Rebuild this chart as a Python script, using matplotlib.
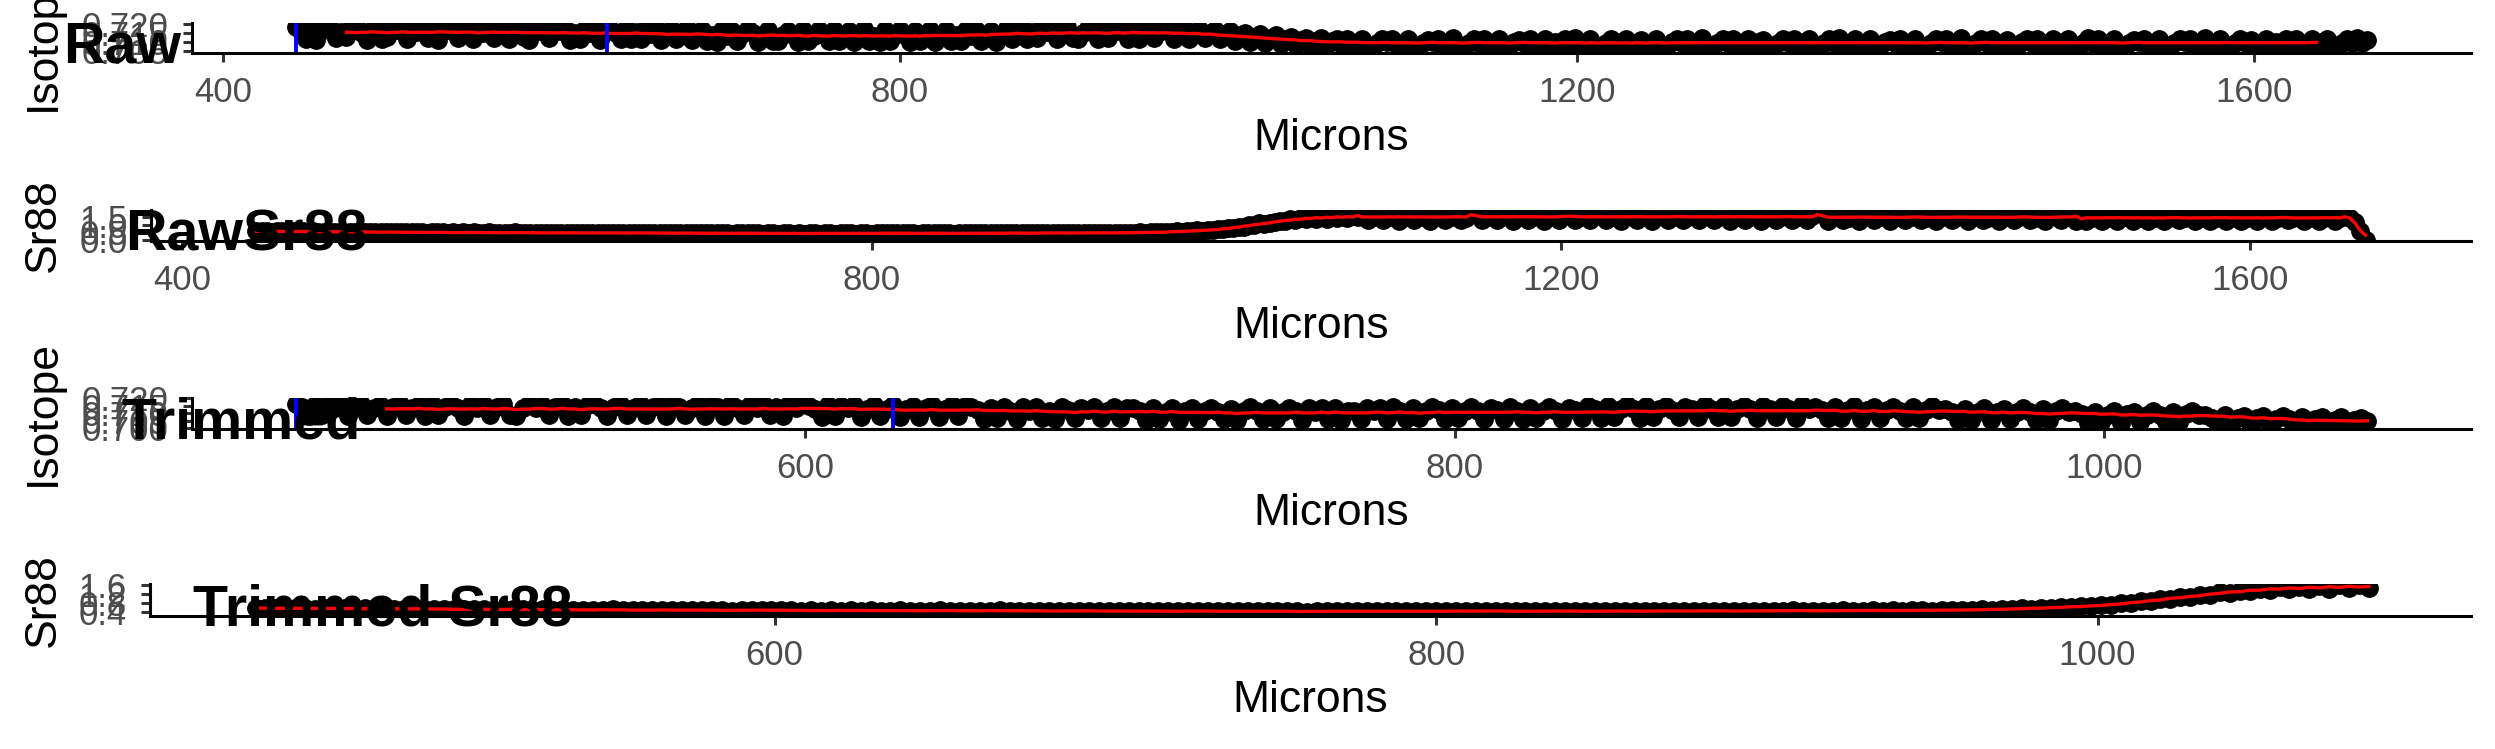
import numpy as np
import pandas as pd
import matplotlib
matplotlib.use("Agg")
import matplotlib.pyplot as plt

plt.rcParams['font.family'] = ['Liberation Sans', 'DejaVu Sans']

W, H = 2495, 749

# laser track: raw readings every 3 microns from 443, trimmed isotope every 2 microns
start_um = 443
raw_step = 3
trim_step = 2
trim_end = 1082

# 87Sr/86Sr as 0.7 + n * 1e-4
raw_isotope_e4 = [
    181, 160, 118, 176, 112, 163, 184, 170, 121, 158, 125, 179, 185, 152, 113, 167, 177, 119, 128, 182,
    164, 172, 116, 180, 155, 186, 124, 159, 111, 174, 168, 183, 120, 162, 178, 117, 171, 150, 185, 123,
    157, 175, 114, 166, 181, 126, 110, 184, 160, 169, 121, 176, 163,
    176, 113, 152, 118, 174, 148, 179, 111, 155, 172, 150, 118, 177, 114, 153, 116, 175, 147, 180, 112,
    151, 173, 115, 156, 178, 110, 149,
    165, 104, 140, 101, 168, 135, 163, 107, 142, 170, 152, 102, 137, 166, 105, 108, 139, 162, 143, 100,
    169, 106, 134, 164, 141, 103, 167, 108, 136, 163, 101, 138, 170, 104, 133, 102, 165, 107, 140, 168,
    137, 102, 162, 105, 142, 166, 100, 135, 169, 106, 139, 103, 164, 136, 167, 108, 141, 163, 101, 138,
    180, 119, 157, 176, 116, 153, 121, 184, 158, 178, 117, 155, 182, 120, 118, 152, 175, 159, 115, 183,
    122, 154, 177, 156, 118, 181, 116, 151, 179, 121, 157, 185,
    176, 116, 152, 180, 114, 150,
    170, 120, 150, 166, 116, 144, 160, 108, 138, 152, 100, 130, 144, 94, 124, 137, 88, 118, 130, 84,
    112, 124, 80, 108, 120, 78, 104, 116, 82,
    116, 75, 97, 114, 78, 73, 94, 119, 99, 115, 77, 93, 118, 74, 80, 96, 113, 98, 117, 72,
    95, 120, 76, 79, 92, 114, 97, 116, 73, 94, 119, 77, 75, 99, 113, 96, 118, 78, 93, 115,
    74, 98, 76, 117, 95, 120, 72, 97, 114, 79, 76, 94, 116, 80, 99, 119, 73, 96, 113, 77,
    92, 118, 75, 78, 98, 115, 95, 117, 74, 93, 120, 79, 72, 97, 114, 96, 116, 76, 94, 119,
    80, 99, 113, 73, 77, 95, 118, 92, 115, 75, 98, 117, 78, 74, 96, 114, 93, 120, 79, 97,
    116, 72, 95, 119, 76, 80, 99, 113, 94, 118, 73, 96, 115, 77, 75, 92, 117, 98, 114, 78,
    95, 120, 74, 79, 93, 116, 97, 119, 72, 96, 113, 76, 73, 99, 118, 94, 115, 80, 92, 117,
    77, 98, 114, 75, 78, 95, 120, 96, 116, 74, 93, 119, 79, 72, 97, 113, 99, 118, 76, 94,
    115, 80, 77, 92, 117, 98, 114, 73, 95, 120, 75, 96, 116, 78, 74, 93, 119, 97, 113, 79,
    94, 118, 72, 99, 76, 115, 96, 117, 80, 92, 114, 73, 98, 119, 77, 75, 95, 116, 93, 120,
    97, 113,
]

# Sr88 signal in hundredths
sr88_e2 = [
    56, 55, 57, 54, 56, 55, 53, 56, 54, 55, 53, 55, 52, 54, 53, 51, 54, 52, 53, 51,
    52, 50, 52, 51, 49, 51, 50, 52, 49, 50, 48, 50, 49, 47, 49, 48, 50, 47, 48, 46,
    48, 47, 49, 46, 47, 48, 46, 47, 45, 47, 48, 46, 47,
    46, 47, 45, 46, 44, 46, 45, 47, 44, 46, 45, 44, 46, 45, 43, 45, 46, 44, 45, 43,
    45, 44, 46, 43, 44, 45, 43, 44, 42, 44, 45, 43, 44, 42, 43, 44, 42, 44, 43, 41,
    43, 42, 44, 42, 43, 41, 42, 43, 41, 42, 43, 41, 42, 40, 42, 43, 41, 42, 43, 41,
    42, 43, 42, 41, 43, 42, 41,
    43, 42, 44, 42, 43, 44, 42, 43, 41, 42, 43, 42, 44, 42, 43, 41, 42, 44, 43, 42,
    43, 42, 44, 43, 42, 44, 43, 45, 43, 44, 42, 44, 45, 43, 44, 46, 44, 45, 43, 45,
    46, 44, 45, 47, 45, 46, 44, 46, 47, 45, 46, 48, 47,
    48, 50, 49, 52, 51, 55, 54, 57, 57, 62, 60, 65, 64, 70, 69, 77, 78, 87, 86, 97,
    96, 108, 105, 113, 117, 127, 124, 135, 131, 143, 136, 149, 140, 152, 141, 156, 144, 158, 146, 159, 148,
    176, 128, 151, 172, 131, 148, 179, 127, 153, 174, 130, 149, 177, 126, 152, 173, 129, 150, 178, 132,
    147, 175,
    178, 128, 154, 175, 131, 150, 180, 127, 156, 176, 130, 152, 179, 126, 153, 174, 129, 157, 181, 132,
    151, 177, 128, 155, 175, 130, 150, 180, 127, 154, 176, 131, 152, 178, 126, 156, 174, 129, 153, 179,
    132, 151, 177, 128, 155, 175, 130, 150, 181, 127, 154, 176, 131, 152, 178, 126, 156, 174, 129, 153,
    179, 132, 151, 177, 128, 155, 175,
    173, 127, 150, 170, 130, 147, 176, 126, 152, 171, 129, 148, 174, 125, 151, 169, 128, 149, 175, 131,
    146, 172, 127, 150, 170, 130, 148, 176, 126, 151, 171, 129, 147, 174, 125, 152, 169, 128, 150, 175,
    131, 146, 172, 127, 149, 170, 130, 151, 176, 126,
    168, 124, 146, 165, 127, 143, 171, 123, 148, 166, 126, 144, 169, 122, 147, 164, 125, 145, 170, 128,
    142, 167, 124, 146, 165, 127, 144, 171, 123, 147, 166, 126, 143, 169, 122, 148, 164, 125, 146, 170,
    128, 142, 167, 124, 145, 165, 127, 143, 171, 123, 147, 166,
    146, 120, 60, 0,
]

trimmed_isotope_e4 = [
    161, 140, 85, 158, 90, 164, 137, 160, 82, 145, 166, 88, 139, 159, 84, 142, 163, 91, 136, 157,
    83, 165, 86, 144, 160, 138, 80, 162, 135, 158, 87, 143, 164, 92, 81, 139, 161, 137, 159, 88,
    144, 166, 84, 140, 90, 157, 163, 136, 83, 142, 160, 86, 138, 165, 91, 141, 158, 82, 162, 145,
    89, 137, 164, 85, 159, 143, 80, 161, 139, 87, 157, 136, 166, 92, 144, 84, 163, 138, 160,
    152, 131, 76, 155, 80, 150, 133, 157, 74, 129, 153, 82, 132, 158, 77, 127, 151, 79, 134, 156,
    75, 130, 154, 81, 150,
    142, 121, 65, 139, 68, 145, 118, 63, 140, 119, 143, 70, 117, 64, 146, 123, 67, 138, 120, 144,
    66, 116, 141, 69, 139,
    136, 115, 58, 133, 62, 112, 139, 57, 116, 134, 60, 113, 137, 111, 64, 132, 56, 117, 140, 114,
    59, 135, 63, 110, 138, 116, 57, 133, 112, 139, 61, 136, 58, 118, 113, 62, 134, 115, 137, 60,
    140, 119, 62, 137, 66, 116, 143, 120, 61, 138, 68, 117, 141, 115, 63, 136, 121, 65, 144, 118,
    64, 139, 67, 116, 142, 119, 60, 137, 120, 66,
    150, 129, 72, 147, 76, 126, 153, 130, 71, 148, 78, 127, 151, 125, 73, 146, 131, 75, 154, 128,
    74, 149, 77, 126, 152, 129, 70, 147, 130, 76, 150, 127, 72, 153, 128,
    144, 123, 66, 141, 70, 120, 147, 65, 124, 142, 72, 121, 145, 119, 67, 140, 69, 125, 148, 122,
    132, 111, 54, 129, 58, 108, 135, 53, 112, 130, 60, 109, 133, 107, 55, 128, 57, 113, 136, 110,
    114, 93, 38, 111, 42, 90, 117, 37, 94, 112, 44, 91, 115, 89, 39, 110, 41, 95, 118, 92,
    90, 72, 18, 88, 20, 70, 85, 16, 67, 83, 14, 65, 80, 62, 12, 78, 10, 60, 75, 8,
    57, 73, 6, 55, 70, 52,
]

cut_marks = [443, 627]

raw = pd.DataFrame({
    'x': start_um + raw_step * np.arange(len(raw_isotope_e4)),
    'iso': 0.7 + np.array(raw_isotope_e4) / 1e4,
    'sr': np.array(sr88_e2) / 100,
})
trim_iso = pd.DataFrame({
    'x': start_um + trim_step * np.arange(len(trimmed_isotope_e4)),
    'iso': 0.7 + np.array(trimmed_isotope_e4) / 1e4,
})
trim_sr = raw[raw.x <= trim_end].copy()

# running means drawn in red
raw['iso_s'] = raw.iso.rolling(21, center=True).mean()
raw['sr_s'] = raw.sr.rolling(3, center=True, min_periods=1).mean()
trim_iso['iso_s'] = trim_iso.iso.rolling(15).mean()
trim_sr['sr_s'] = trim_sr.sr.rolling(3, center=True, min_periods=1).mean()


def expand(lo, hi, f=0.05):
    d = (hi - lo) * f
    return lo - d, hi + d


panels = [
    dict(df=raw, col='iso', title='Raw', ylab='Isotope', left=192, top=22.7, bottom=53.3,
         ylim=(0.70372, 0.72072), yticks=[0.705, 0.710, 0.715, 0.720], fmt='%.3f',
         xticks=[400, 800, 1200, 1600], vlines=True, tx=63),
    dict(df=raw, col='sr', title='RawSr88', ylab='Sr88', left=151, top=210, bottom=241,
         ylim=(-0.09, 1.98), yticks=[0.0, 0.5, 1.0, 1.5], fmt='%.1f',
         xticks=[400, 800, 1200, 1600], vlines=False, tx=125),
    dict(df=trim_iso, col='iso', title='Trimmed', ylab='Isotope', left=192, top=398, bottom=428.6,
         ylim=(0.6998, 0.7203), yticks=[0.700, 0.705, 0.710, 0.715, 0.720], fmt='%.3f',
         xticks=[600, 800, 1000], vlines=True, tx=121),
    dict(df=trim_sr, col='sr', title='Trimmed Sr88', ylab='Sr88', left=150, top=584, bottom=616,
         ylim=(0.207, 1.645), yticks=[0.4, 0.8, 1.2, 1.6], fmt='%.1f',
         xticks=[600, 800, 1000], vlines=False, tx=193),
]

right = 2471
fig = plt.figure(figsize=(W / 100, H / 100), dpi=100)

for p in panels:
    df = p['df']
    ax = fig.add_axes([p['left'] / W, 1 - p['bottom'] / H,
                       (right - p['left']) / W, (p['bottom'] - p['top']) / H])
    ax.plot(df.x, df[p['col']], 'o', color='black', markersize=12.5, zorder=2)
    ax.plot(df.x, df[p['col'] + '_s'], color='red', lw=2.4, zorder=3)
    if p['vlines']:
        for v in cut_marks:
            ax.axvline(v, color='blue', lw=2.8, zorder=4)
    if p['df'] is raw:
        ax.set_xlim(*expand(df.x.min(), df.x.max()))
    else:
        ax.set_xlim(*expand(start_um, trim_end - 1))
    ax.set_ylim(*p['ylim'])
    ax.set_xticks(p['xticks'])
    ax.set_yticks(p['yticks'])
    ax.set_yticklabels([p['fmt'] % t for t in p['yticks']])
    for s in ['top', 'right']:
        ax.spines[s].set_visible(False)
    for s in ['left', 'bottom']:
        ax.spines[s].set_linewidth(2.2)
        ax.spines[s].set_color('black')
        ax.spines[s].set_zorder(5)
    ax.tick_params(length=6.7, width=2.2, color='#333333', labelcolor='#4D4D4D',
                   labelsize=25, pad=10)

    mid_x = (p['left'] + right) / 2
    fig.text(mid_x / W, 1 - (p['bottom'] + 85) / H, 'Microns', ha='center', va='center',
             fontsize=32, color='black')
    fig.text(43 / W, 1 - (p['top'] + p['bottom']) / 2 / H, p['ylab'], rotation=90,
             ha='center', va='center', fontsize=32, color='black')
    fig.text(p['tx'] / W, 1 - (p['bottom'] + 9.5) / H, p['title'], ha='left',
             va='baseline', fontsize=41.3, fontweight='bold', color='black', zorder=10)

fig.savefig('out.png', dpi=100)
